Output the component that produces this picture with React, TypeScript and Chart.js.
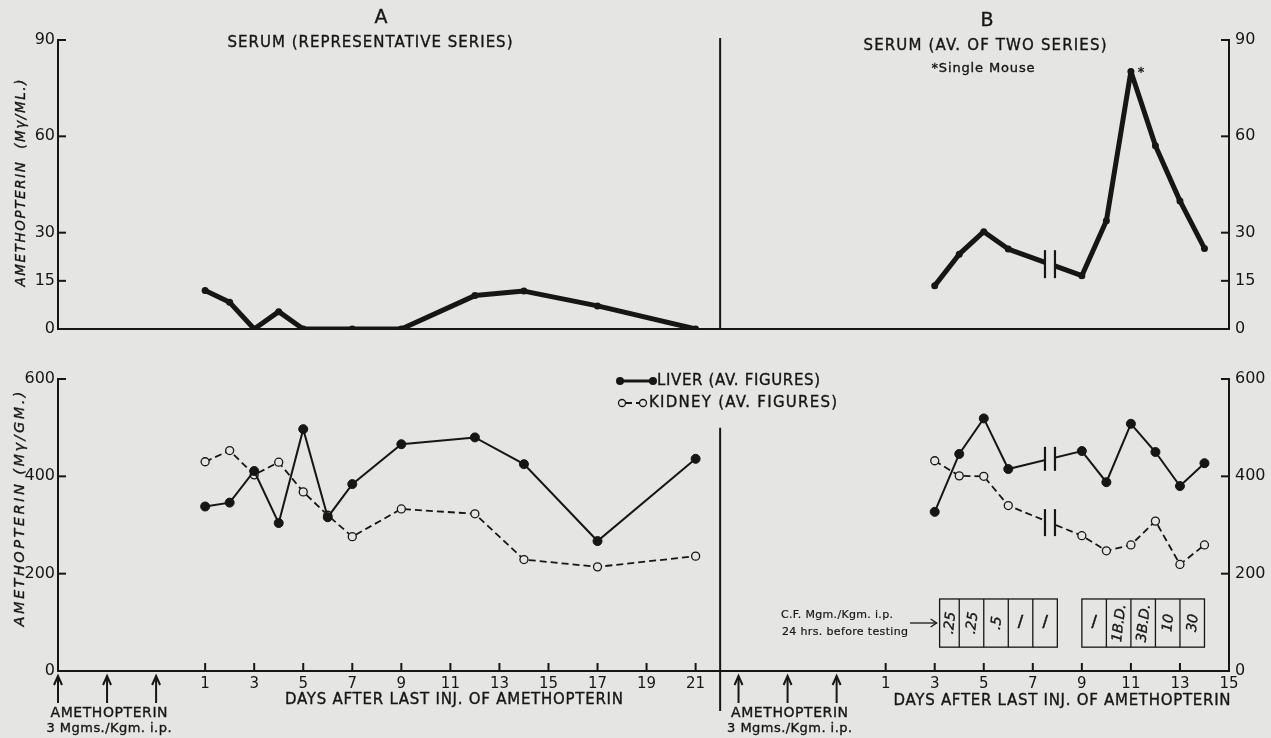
import React, { useEffect, useRef } from "react";
import { Chart, registerables } from "chart.js";
Chart.register(...registerables);

// ---------- data ----------
const OFFSET_B = 27.75; // panel B days are shifted on the shared x scale
const DIVIDER_X = 22;

const serumDaysA = [1, 2, 3, 4, 5, 7, 9, 12, 14, 17, 21];
const serumValuesA = [12, 8.3, 0, 5.4, 0, 0, 0, 10.4, 11.8, 7.2, 0];

const serumDaysB = [3, 4, 5, 6, 9, 10, 11, 12, 13, 14];
const serumValuesB = [13.5, 23.3, 30.3, 24.9, 16.6, 33.7, 80.2, 57.1, 39.9, 25.1];

const tissueDaysA = [1, 2, 3, 4, 5, 6, 7, 9, 12, 14, 17, 21];
const liverValuesA = [338, 346, 411, 304, 497, 316, 384, 466, 480, 425, 267, 436];
const kidneyValuesA = [430, 453, 403, 429, 368, 320, 276, 333, 323, 229, 214, 236];

const tissueDaysB = [3, 4, 5, 6, 9, 10, 11, 12, 13, 14];
const liverValuesB = [327, 446, 519, 415, 452, 388, 508, 450, 380, 427];
const kidneyValuesB = [432, 401, 400, 340, 278, 247, 259, 308, 219, 259];

const tickDaysA = [1, 3, 5, 7, 9, 11, 13, 15, 17, 19, 21];
const tickDaysB = [1, 3, 5, 7, 9, 11, 13, 15];
const serumTicks = [0, 15, 30, 60, 90];
const tissueTicks = [0, 200, 400, 600];

const injectionDays = [-5, -3, -1];
const breakDay = 7.7;
const singleMouseDay = 11;

const cfLabels1 = [".25", ".25", ".5", "1", "1"];
const cfEdges1 = [3.2, 4, 5, 6, 7, 8];
const cfLabels2 = ["1", "1B.D.", "3B.D.", "10", "30"];
const cfEdges2 = [9, 10, 11, 12, 13, 14];

// ---------- style ----------
const W = 1271;
const H = 738;
const INK = "#161616";
const BG = "#e5e5e3";
const FONT = '"DejaVu Sans", sans-serif';

function pts(days: number[], vals: number[], off = 0) {
  return days.map((d, i) => ({ x: d + off, y: vals[i] }));
}

function drawText(
  ctx: CanvasRenderingContext2D,
  s: string,
  cx: number,
  cy: number,
  size: number,
  width = 0,
  opts: { italic?: boolean; rot?: number; align?: "left" | "center"; bold?: number } = {}
) {
  ctx.save();
  ctx.font = `${opts.italic ? "italic " : ""}${size}px ${FONT}`;
  (ctx as any).letterSpacing = "0px";
  const w0 = ctx.measureText(s).width;
  const n = s.length;
  const sp = width && n > 1 ? (width - w0) / (n - 1) : 0;
  (ctx as any).letterSpacing = sp + "px";
  ctx.translate(cx, cy);
  if (opts.rot) ctx.rotate(opts.rot);
  ctx.textBaseline = "middle";
  ctx.textAlign = "left";
  ctx.fillStyle = INK;
  const total = w0 + sp * (n - 1);
  const x0 = opts.align === "left" ? 0 : -total / 2;
  ctx.fillText(s, x0, 0);
  const b = opts.bold ?? 0.35;
  if (b > 0) {
    ctx.lineWidth = b;
    ctx.strokeStyle = INK;
    ctx.strokeText(s, x0, 0);
  }
  ctx.restore();
}

function line(ctx: CanvasRenderingContext2D, x1: number, y1: number, x2: number, y2: number, w = 2) {
  ctx.beginPath();
  ctx.moveTo(x1, y1);
  ctx.lineTo(x2, y2);
  ctx.lineWidth = w;
  ctx.strokeStyle = INK;
  ctx.stroke();
}

const figurePlugin = {
  id: "figure",
  beforeDraw(chart: any) {
    const ctx = chart.ctx;
    ctx.save();
    ctx.fillStyle = BG;
    ctx.fillRect(0, 0, chart.width, chart.height);
    ctx.restore();
  },
  afterDatasetsDraw(chart: any) {
    const ctx: CanvasRenderingContext2D = chart.ctx;
    const xs = chart.scales.x;
    const yT = chart.scales.yTop;
    const yB = chart.scales.yBot;
    // break marks on panel B curves
    const breaks: [number[], number[], any, number][] = [
      [serumDaysB, serumValuesB, yT, 28],
      [tissueDaysB, liverValuesB, yB, 24],
      [tissueDaysB, kidneyValuesB, yB, 27],
    ];
    breaks.forEach(([days, vals, ys, h]) => {
      const i = days.findIndex((d, k) => d < breakDay && days[k + 1] > breakDay);
      const x1 = xs.getPixelForValue(days[i] + OFFSET_B);
      const x2 = xs.getPixelForValue(days[i + 1] + OFFSET_B);
      const y1 = ys.getPixelForValue(vals[i]);
      const y2 = ys.getPixelForValue(vals[i + 1]);
      const x = xs.getPixelForValue(breakDay + OFFSET_B);
      const y = y1 + ((x - x1) / (x2 - x1)) * (y2 - y1);
      ctx.save();
      ctx.fillStyle = BG;
      ctx.fillRect(x - 4, y - 5, 8, 10);
      line(ctx, x - 5, y - h / 2, x - 5, y + h / 2, 2.2);
      line(ctx, x + 5, y - h / 2, x + 5, y + h / 2, 2.2);
      ctx.restore();
    });
  },
  afterDraw(chart: any) {
    const ctx: CanvasRenderingContext2D = chart.ctx;
    const ca = chart.chartArea;
    const xs = chart.scales.x;
    const yT = chart.scales.yTop;
    const yB = chart.scales.yBot;
    ctx.save();
    ctx.lineCap = "butt";

    // inner tick marks on the y axes
    serumTicks.forEach((v) => {
      const y = yT.getPixelForValue(v);
      if (v > 0) {
        line(ctx, ca.left, y, ca.left + 8, y, 2);
        line(ctx, ca.right, y, ca.right - 8, y, 2);
      }
    });
    tissueTicks.forEach((v) => {
      const y = yB.getPixelForValue(v);
      if (v > 0) {
        line(ctx, ca.left, y, ca.left + 8, y, 2);
        line(ctx, ca.right, y, ca.right - 8, y, 2);
      }
    });
    // upward tick marks on the x axis
    [...tickDaysA, ...tickDaysB.map((d) => d + OFFSET_B)].forEach((v) => {
      const x = xs.getPixelForValue(v);
      if (x < ca.right - 2) line(ctx, x, ca.bottom, x, ca.bottom - 8, 2);
    });

    // divider between A and B
    const xd = xs.getPixelForValue(DIVIDER_X);
    line(ctx, xd, yT.getPixelForValue(90) - 2, xd, yT.getPixelForValue(0), 2);
    line(ctx, xd, yB.getPixelForValue(500), xd, ca.bottom + 40, 2);

    // injection arrows
    [0, OFFSET_B].forEach((off) => {
      injectionDays.forEach((d) => {
        const x = xs.getPixelForValue(d + off);
        line(ctx, x, ca.bottom + 32, x, ca.bottom + 6, 2);
        ctx.beginPath();
        ctx.moveTo(x - 4, ca.bottom + 14);
        ctx.lineTo(x, ca.bottom + 5);
        ctx.lineTo(x + 4, ca.bottom + 14);
        ctx.lineWidth = 2;
        ctx.strokeStyle = INK;
        ctx.stroke();
      });
      const xm = xs.getPixelForValue(injectionDays[1] + off) + 2;
      drawText(ctx, "AMETHOPTERIN", xm, ca.bottom + 42, 14, 117);
      drawText(ctx, "3 Mgms./Kgm. i.p.", xm, ca.bottom + 58, 13, 125);
    });

    // titles
    drawText(ctx, "A", 381, 18, 19);
    drawText(ctx, "SERUM (REPRESENTATIVE SERIES)", 370, 43, 15, 285);
    drawText(ctx, "B", 987, 21, 19);
    drawText(ctx, "SERUM (AV. OF TWO SERIES)", 985, 46, 15, 243);
    drawText(ctx, "*Single Mouse", 983, 69, 13, 103);
    const pi = serumDaysB.indexOf(singleMouseDay);
    const px = xs.getPixelForValue(singleMouseDay + OFFSET_B);
    const py = yT.getPixelForValue(serumValuesB[pi]);
    drawText(ctx, "*", px + 10, py + 1, 13);

    // axis titles
    drawText(ctx, "AMETHOPTERIN  (Mγ/ML.)", 21, 183, 13.5, 207, { italic: true, rot: -Math.PI / 2 });
    drawText(ctx, "AMETHOPTERIN (Mγ/GM.)", 20, 509, 14.5, 235, { italic: true, rot: -Math.PI / 2 });
    drawText(ctx, "DAYS AFTER LAST INJ. OF AMETHOPTERIN", 454, ca.bottom + 29, 15, 338);
    drawText(ctx, "DAYS AFTER LAST INJ. OF AMETHOPTERIN", 1062, ca.bottom + 30, 15, 337);

    // legend
    line(ctx, 620, 381, 653, 381, 3);
    ctx.fillStyle = INK;
    [620, 653].forEach((x) => {
      ctx.beginPath();
      ctx.arc(x, 381, 4, 0, Math.PI * 2);
      ctx.fill();
    });
    drawText(ctx, "LIVER (AV. FIGURES)", 657, 381, 15, 163, { align: "left" });
    ctx.save();
    ctx.setLineDash([6, 4]);
    line(ctx, 626, 403, 640, 403, 2);
    ctx.restore();
    [622, 643].forEach((x) => {
      ctx.beginPath();
      ctx.arc(x, 403, 3.5, 0, Math.PI * 2);
      ctx.fillStyle = BG;
      ctx.fill();
      ctx.lineWidth = 1.3;
      ctx.strokeStyle = INK;
      ctx.stroke();
    });
    drawText(ctx, "KIDNEY (AV. FIGURES)", 649, 403, 15, 188, { align: "left" });

    // citrovorum factor dose table
    const yTop = yB.getPixelForValue(148);
    const yBot = yB.getPixelForValue(49);
    [
      [cfEdges1, cfLabels1],
      [cfEdges2, cfLabels2],
    ].forEach(([edges, labels]: any) => {
      const xL = xs.getPixelForValue(edges[0] + OFFSET_B);
      const xR = xs.getPixelForValue(edges[edges.length - 1] + OFFSET_B);
      ctx.lineWidth = 1.3;
      ctx.strokeStyle = INK;
      ctx.strokeRect(xL, yTop, xR - xL, yBot - yTop);
      for (let k = 1; k < edges.length - 1; k++) {
        const x = xs.getPixelForValue(edges[k] + OFFSET_B);
        line(ctx, x, yTop, x, yBot, 1.3);
      }
      labels.forEach((s: string, k: number) => {
        const cx = (xs.getPixelForValue(edges[k] + OFFSET_B) + xs.getPixelForValue(edges[k + 1] + OFFSET_B)) / 2;
        const cy = (yTop + yBot) / 2;
        if (s === "1") drawText(ctx, "/", cx, cy, 16, 0, { bold: 0.6 });
        else drawText(ctx, s, cx + 1, cy, 14, 0, { italic: true, rot: -Math.PI / 2 + 0.12 });
      });
    });
    drawText(ctx, "C.F. Mgm./Kgm. i.p.", 837, 615, 11, 112, { bold: 0.2 });
    drawText(ctx, "24 hrs. before testing", 845, 632, 11, 126, { bold: 0.2 });
    const xa = xs.getPixelForValue(cfEdges1[0] + OFFSET_B);
    line(ctx, 910, 623, xa - 3, 623, 1.3);
    ctx.beginPath();
    ctx.moveTo(xa - 9, 619);
    ctx.lineTo(xa - 3, 623);
    ctx.lineTo(xa - 9, 627);
    ctx.lineWidth = 1.3;
    ctx.stroke();

    ctx.restore();
  },
};

const tickFont = { family: FONT, size: 16 };

export default function App() {
  const ref = useRef<HTMLCanvasElement>(null);
  useEffect(() => {
    const canvas = ref.current!;
    const heavy = {
      borderColor: INK,
      borderWidth: 5,
      borderJoinStyle: "round",
      borderCapStyle: "round",
      pointRadius: 3.5,
      pointBackgroundColor: INK,
      pointBorderWidth: 0,
    };
    const liver = { borderColor: INK, borderWidth: 2, pointRadius: 4.5, pointBackgroundColor: INK, pointBorderColor: INK, pointBorderWidth: 1 };
    const kidney = {
      borderColor: INK,
      borderWidth: 1.8,
      borderDash: [7, 4],
      pointRadius: 4,
      pointBackgroundColor: BG,
      pointBorderColor: INK,
      pointBorderWidth: 1.3,
    };
    const chart = new Chart(canvas, {
      type: "line",
      data: {
        datasets: [
          { label: "Serum A", data: pts(serumDaysA, serumValuesA), yAxisID: "yTop", ...heavy },
          { label: "Serum B", data: pts(serumDaysB, serumValuesB, OFFSET_B), yAxisID: "yTop", ...heavy },
          { label: "Liver A", data: pts(tissueDaysA, liverValuesA), yAxisID: "yBot", ...liver },
          { label: "Liver B", data: pts(tissueDaysB, liverValuesB, OFFSET_B), yAxisID: "yBot", ...liver },
          { label: "Kidney A", data: pts(tissueDaysA, kidneyValuesA), yAxisID: "yBot", ...kidney },
          { label: "Kidney B", data: pts(tissueDaysB, kidneyValuesB, OFFSET_B), yAxisID: "yBot", ...kidney },
        ] as any,
      },
      options: {
        animation: false,
        responsive: false,
        devicePixelRatio: 1,
        layout: { padding: { top: 40, left: 0, right: 0, bottom: 0 } },
        plugins: { legend: { display: false }, tooltip: { enabled: false } },
        elements: { line: { tension: 0 } },
        scales: {
          x: {
            type: "linear",
            position: "bottom",
            min: -5,
            max: 15 + OFFSET_B,
            afterFit: (s: any) => {
              s.height = 67;
            },
            afterBuildTicks: (s: any) => {
              s.ticks = [...tickDaysA.map((d) => ({ value: d })), ...tickDaysB.map((d) => ({ value: d + OFFSET_B }))];
            },
            grid: { display: false, drawTicks: false },
            border: { display: true, color: INK, width: 2 },
            ticks: {
              autoSkip: false,
              maxRotation: 0,
              padding: 4,
              color: INK,
              font: { family: FONT, size: 15 },
              callback: (v: any) => {
                const n = Number(v);
                return n > DIVIDER_X ? String(Math.round(n - OFFSET_B)) : String(n);
              },
            },
          },
          yTop: {
            type: "linear",
            position: "left",
            stack: "L",
            stackWeight: 289,
            weight: 3,
            min: 0,
            max: 90,
            afterFit: (s: any) => {
              s.width = 58;
            },
            afterBuildTicks: (s: any) => {
              s.ticks = serumTicks.map((v) => ({ value: v }));
            },
            grid: {
              drawTicks: false,
              lineWidth: 2,
              color: (c: any) => (c.tick && c.tick.value === 0 ? INK : "rgba(0,0,0,0)"),
            },
            border: { display: true, color: INK, width: 2 },
            ticks: { padding: 3, color: INK, font: tickFont },
          },
          gapL: {
            type: "linear",
            position: "left",
            stack: "L",
            stackWeight: 50,
            weight: 2,
            afterFit: (s: any) => {
              s.width = 58;
            },
            grid: { display: false, drawTicks: false },
            border: { display: false },
            ticks: { display: false },
          },
          yBot: {
            type: "linear",
            position: "left",
            stack: "L",
            stackWeight: 292,
            weight: 1,
            min: 0,
            max: 600,
            afterFit: (s: any) => {
              s.width = 58;
            },
            afterBuildTicks: (s: any) => {
              s.ticks = tissueTicks.map((v) => ({ value: v }));
            },
            grid: { display: false, drawTicks: false },
            border: { display: true, color: INK, width: 2 },
            ticks: { padding: 3, color: INK, font: tickFont },
          },
          yTopR: {
            type: "linear",
            position: "right",
            stack: "R",
            stackWeight: 289,
            weight: 1,
            min: 0,
            max: 90,
            afterFit: (s: any) => {
              s.width = 42;
            },
            afterBuildTicks: (s: any) => {
              s.ticks = serumTicks.map((v) => ({ value: v }));
            },
            grid: { display: false, drawTicks: false },
            border: { display: true, color: INK, width: 2 },
            ticks: { padding: 6, color: INK, font: tickFont },
          },
          gapR: {
            type: "linear",
            position: "right",
            stack: "R",
            stackWeight: 50,
            weight: 2,
            afterFit: (s: any) => {
              s.width = 42;
            },
            grid: { display: false, drawTicks: false },
            border: { display: false },
            ticks: { display: false },
          },
          yBotR: {
            type: "linear",
            position: "right",
            stack: "R",
            stackWeight: 292,
            weight: 3,
            min: 0,
            max: 600,
            afterFit: (s: any) => {
              s.width = 42;
            },
            afterBuildTicks: (s: any) => {
              s.ticks = tissueTicks.map((v) => ({ value: v }));
            },
            grid: { display: false, drawTicks: false },
            border: { display: true, color: INK, width: 2 },
            ticks: { padding: 6, color: INK, font: tickFont },
          },
        } as any,
      },
      plugins: [figurePlugin],
    });
    return () => chart.destroy();
  }, []);
  return (
    <div style={{ position: "fixed", left: 0, top: 0, width: W, height: H, background: BG }}>
      <canvas ref={ref} width={W} height={H} style={{ display: "block", width: W, height: H }} />
    </div>
  );
}
